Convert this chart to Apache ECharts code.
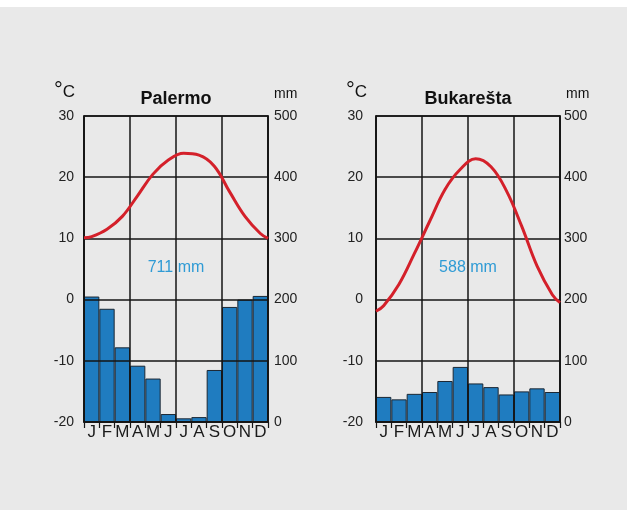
<!DOCTYPE html>
<html>
<head>
<meta charset="utf-8">
<style>
html,body{margin:0;padding:0;background:#fff;}
#c{width:627px;height:510px;}
</style>
<script src="https://cdn.jsdelivr.net/npm/echarts@6/dist/echarts.min.js"></script>
</head>
<body>
<div id="c"></div>
<script>
// ---- data ----
var months = ['J','F','M','A','M','J','J','A','S','O','N','D'];
var tempTicks = [-20, -10, 0, 10, 20, 30];
var precipTicks = [0, 100, 200, 300, 400, 500];

var palermoName = 'Palermo';
var palermoTotal = '711 mm';
var palermoPrecip = [205, 185, 122, 92, 71, 13, 6, 8, 85, 188, 200, 206];
var palermoTemp = [10.3, 11.5, 13.6, 17.0, 20.5, 22.8, 23.9, 23.6, 21.8, 17.6, 13.6, 10.8];
var palermoTempEdges = [10.1, 10.0];

var bukarestName = 'Bukarešta';
var bukarestTotal = '588 mm';
var bukarestPrecip = [41, 37, 46, 49, 67, 90, 63, 57, 45, 50, 55, 49];
var bukarestTemp = [-1.0, 2.5, 7.5, 12.8, 18.0, 21.3, 23.0, 21.7, 17.8, 12.0, 5.5, 0.8];
var bukarestTempEdges = [-1.9, -0.5];

// ---- build ----
function curve(temp, edges) {
  var pts = [[0, edges[0]]];
  for (var i = 0; i < temp.length; i++) pts.push([i + 0.5, temp[i]]);
  pts.push([temp.length, edges[1]]);
  return pts;
}

var gridDefs = [
  {left: 84, top: 116, width: 184, height: 306, lblL: 10, lblR: 6},
  {left: 376, top: 116, width: 184, height: 306, lblL: 13, lblR: 4}
];
var stations = [
  {name: palermoName, total: palermoTotal, precip: palermoPrecip, temp: palermoTemp, edges: palermoTempEdges},
  {name: bukarestName, total: bukarestTotal, precip: bukarestPrecip, temp: bukarestTemp, edges: bukarestTempEdges}
];

var BLK = '#151515';
var grids = [], xAxes = [], yAxes = [], series = [], graphics = [];

graphics.push({type:'rect', shape:{x:0,y:7,width:627,height:503}, style:{fill:'#e9e9e9'}, z:-10});

stations.forEach(function (s, i) {
  var g = gridDefs[i];
  grids.push({left: g.left, top: g.top, width: g.width, height: g.height, show: true,
    borderColor: BLK, borderWidth: 1.5, backgroundColor: 'transparent'});
  xAxes.push({
    gridIndex: i, type: 'category', data: months, position: 'bottom', boundaryGap: true, z: 5,
    axisLine: {show: true, onZero: false, lineStyle: {color: BLK, width: 1.5}},
    axisTick: {show: true, length: 6, alignWithLabel: false, lineStyle: {color: BLK, width: 1.2}},
    axisLabel: {show: true, interval: 0, margin: 2, color: '#1a1a1a', fontSize: 17,
      fontFamily: '"Liberation Sans", Arial, sans-serif'},
    splitLine: {show: false}
  });
  xAxes.push({
    gridIndex: i, type: 'value', min: 0, max: 12, interval: 3, position: 'top', z: 5,
    axisLine: {show: false, onZero: false}, axisTick: {show: false}, axisLabel: {show: false},
    splitLine: {show: true, lineStyle: {color: BLK, width: 1.5}}
  });
  yAxes.push({
    gridIndex: i, type: 'value', min: tempTicks[0], max: tempTicks[tempTicks.length - 1], interval: 10,
    position: 'left', z: 5,
    axisLine: {show: true, onZero: false, lineStyle: {color: BLK, width: 1.5}}, axisTick: {show: false},
    axisLabel: {margin: g.lblL, color: '#222', fontSize: 14, fontFamily: '"Liberation Sans", Arial, sans-serif'},
    splitLine: {show: true, lineStyle: {color: BLK, width: 1.5}}
  });
  yAxes.push({
    gridIndex: i, type: 'value', min: precipTicks[0], max: precipTicks[precipTicks.length - 1], interval: 100,
    position: 'right', z: 5,
    axisLine: {show: true, onZero: false, lineStyle: {color: BLK, width: 1.5}}, axisTick: {show: false},
    axisLabel: {margin: g.lblR, color: '#222', fontSize: 14, fontFamily: '"Liberation Sans", Arial, sans-serif'},
    splitLine: {show: false}
  });
  series.push({
    type: 'bar', xAxisIndex: 2 * i, yAxisIndex: 2 * i + 1, data: s.precip,
    barCategoryGap: '0%', z: 2,
    itemStyle: {color: '#1f7cc0', borderColor: '#1b2733', borderWidth: 1}
  });
  series.push({
    type: 'line', xAxisIndex: 2 * i + 1, yAxisIndex: 2 * i, data: curve(s.temp, s.edges),
    smooth: 0.4, showSymbol: false, z: 10,
    lineStyle: {color: '#d4202a', width: 3}
  });
  var cx = g.left + g.width / 2;
  graphics.push({type: 'text', x: cx, y: 99, z: 20, style: {text: s.name, fill: '#111',
    font: 'bold 18px "Liberation Sans", Arial, sans-serif', textAlign: 'center', textVerticalAlign: 'middle'}});
  graphics.push({type: 'text', x: cx, y: 268, z: 20, style: {text: s.total, fill: '#2f9bd5',
    font: '16px "Liberation Sans", Arial, sans-serif', textAlign: 'center', textVerticalAlign: 'middle'}});
  graphics.push({type: 'text', x: g.left - 30, y: 104, z: 20, style: {text: '{d|°}{c|C}',
    textAlign: 'left', textVerticalAlign: 'bottom',
    rich: {d: {fontSize: 22, fontFamily: '"Liberation Sans", Arial', fill: '#111', padding: [0, 0, 2, 0]},
           c: {fontSize: 17, fontFamily: '"Liberation Sans", Arial', fill: '#111'}}}});
  graphics.push({type: 'text', x: g.left + g.width + 6, y: 101, z: 20, style: {text: 'mm', fill: '#111',
    font: '14px "Liberation Sans", Arial, sans-serif', textAlign: 'left', textVerticalAlign: 'bottom'}});
});

var chart = echarts.init(document.getElementById('c'), null, {renderer: 'canvas'});
chart.setOption({
  backgroundColor: '#ffffff',
  animation: false,
  grid: grids, xAxis: xAxes, yAxis: yAxes, series: series, graphic: graphics
});
</script>
</body>
</html>
